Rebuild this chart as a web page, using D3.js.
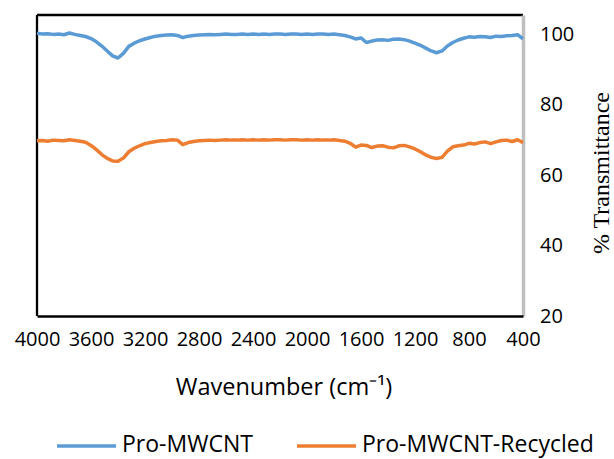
<!DOCTYPE html>
<html>
<head>
<meta charset="utf-8">
<script src="https://cdnjs.cloudflare.com/ajax/libs/d3/7.8.5/d3.min.js"></script>
<style>
  body { margin: 0; background: #fff; }
  .tick-label { font-family: "Open Sans", sans-serif; font-size: 20px; fill: #000; }
  .axisText { font-family: "Open Sans", sans-serif; font-size: 23.5px; fill: #000; }
  .legendText { font-family: "Open Sans", sans-serif; font-size: 23px; fill: #000; }
</style>
</head>
<body>
<div class="chart"></div>
<script>
// FTIR spectra, Pro-MWCNT vs recycled

var wavenumbers = [4000, 3960, 3920, 3880, 3840, 3800, 3760, 3720, 3680, 3640,
  3600, 3560, 3520, 3480, 3440, 3400, 3360, 3320, 3280, 3240,
  3200, 3160, 3120, 3080, 3040, 3000, 2960, 2920, 2880, 2840,
  2800, 2760, 2720, 2680, 2640, 2600, 2560, 2520, 2480, 2440,
  2400, 2360, 2320, 2280, 2240, 2200, 2160, 2120, 2080, 2040,
  2000, 1960, 1920, 1880, 1840, 1800, 1760, 1720, 1680, 1640,
  1600, 1560, 1520, 1480, 1440, 1400, 1360, 1320, 1280, 1240,
  1200, 1160, 1120, 1080, 1040, 1000, 960, 920, 880, 840,
  800, 760, 720, 680, 640, 600, 560, 520, 480, 440, 400];

var proMWCNT = [100.2, 100.0, 100.1, 99.9, 100.0, 99.8, 100.3, 99.9, 99.6, 99.3,
  98.7, 97.8, 96.6, 95.2, 93.8, 93.2, 94.5, 96.5, 97.4, 98.1,
  98.6, 99.0, 99.4, 99.6, 99.7, 99.8, 99.6, 99.0, 99.4, 99.6,
  99.7, 99.8, 99.9, 99.8, 99.9, 100.0, 99.9, 99.9, 100.0, 99.9,
  100.0, 99.9, 100.0, 99.9, 100.0, 100.0, 99.9, 100.0, 100.0, 99.9,
  100.0, 99.9, 100.0, 100.0, 99.9, 100.0, 99.8, 99.6, 99.2, 98.6,
  98.9, 97.6, 98.0, 98.3, 98.4, 98.2, 98.5, 98.6, 98.4, 98.0,
  97.4, 96.8, 96.0, 95.2, 94.7, 95.2, 96.6, 97.6, 98.3, 98.8,
  99.2, 99.1, 99.3, 99.2, 99.0, 99.4, 99.3, 99.5, 99.6, 99.8, 98.6];

var proMWCNTRecycled = [69.7, 69.8, 69.6, 69.9, 69.8, 69.7, 70.0, 69.8, 69.6, 69.3,
  68.4, 67.2, 65.8, 64.7, 64.0, 63.9, 64.8, 66.6, 67.6, 68.3,
  68.9, 69.2, 69.5, 69.7, 69.8, 70.0, 69.9, 68.6, 69.2, 69.5,
  69.7, 69.8, 69.9, 69.8, 69.9, 70.0, 69.9, 69.9, 70.0, 69.9,
  70.0, 69.9, 70.0, 69.9, 70.0, 70.0, 69.9, 70.0, 70.0, 69.9,
  70.0, 69.9, 70.0, 69.9, 69.9, 70.0, 69.8, 69.6, 69.0, 67.9,
  68.5, 68.4, 67.8, 68.2, 68.3, 67.9, 67.7, 68.3, 68.4, 68.0,
  67.4, 66.6, 65.7, 65.0, 64.7, 65.0, 66.8, 68.0, 68.3, 68.5,
  69.0, 68.8, 69.2, 69.4, 68.9, 69.4, 69.8, 69.9, 69.5, 70.0, 69.2];

var xTicks = [4000, 3600, 3200, 2800, 2400, 2000, 1600, 1200, 800, 400];
var yTicks = [20, 40, 60, 80, 100];

var seriesNames = ["Pro-MWCNT", "Pro-MWCNT-Recycled"];
var seriesColors = ["#5b9bd5", "#ed7d31"];

var svgWidth = 614;
var svgHeight = 459;

var margin = { top: 15, right: 91, bottom: 143, left: 37 };

var width = svgWidth - margin.left - margin.right;
var height = svgHeight - margin.top - margin.bottom;

var svg = d3
  .select(".chart")
  .append("svg")
  .attr("width", svgWidth)
  .attr("height", svgHeight);

var chart = svg.append("g")
  .attr("transform", "translate(" + margin.left + "," + margin.top + ")");

// scales (x reversed, like the spectrometer output)
var xScale = d3.scaleLinear().domain([4000, 400]).range([0, width]);
var yScale = d3.scaleLinear().domain([20, 105.4]).range([height, 0]);

// frame: black on three sides, grey value axis on the right
chart.append("line")
  .attr("x1", 0).attr("x2", width).attr("y1", 0).attr("y2", 0)
  .attr("stroke", "#000").attr("stroke-width", 2.3);
chart.append("line")
  .attr("x1", 0).attr("x2", 0).attr("y1", 0).attr("y2", height)
  .attr("stroke", "#000").attr("stroke-width", 2.3);

var rightAxis = d3.axisRight(yScale)
  .tickValues(yTicks)
  .tickFormat(d3.format("d"))
  .tickSize(0)
  .tickPadding(17);

var yAxisG = chart.append("g")
  .attr("transform", "translate(" + width + ",0)")
  .call(rightAxis);
yAxisG.select(".domain")
  .attr("stroke", "#bfbfbf").attr("stroke-width", 3.5);
yAxisG.selectAll("text")
  .attr("class", "tick-label")
  .attr("font-family", null).attr("font-size", null);

var bottomAxis = d3.axisBottom(xScale)
  .tickValues(xTicks)
  .tickFormat(d3.format("d"))
  .tickSize(0)
  .tickPadding(16);

var xAxisG = chart.append("g")
  .attr("transform", "translate(0," + height + ")")
  .call(bottomAxis);
xAxisG.select(".domain")
  .attr("stroke", "#000").attr("stroke-width", 2.3);
xAxisG.selectAll("text")
  .attr("class", "tick-label")
  .attr("font-family", null).attr("font-size", null);

// spectra
var line = d3.line()
  .x(function(d) { return xScale(d[0]); })
  .y(function(d) { return yScale(d[1]); });

[proMWCNT, proMWCNTRecycled].forEach(function(vals, i) {
  var pts = wavenumbers.map(function(w, j) { return [w, vals[j]]; });
  chart.append("path")
    .datum(pts)
    .attr("fill", "none")
    .attr("stroke", seriesColors[i])
    .attr("stroke-width", 3.5)
    .attr("stroke-linejoin", "round")
    .attr("d", line);
});

// axis titles
svg.append("text")
  .attr("class", "axisText")
  .attr("x", 284)
  .attr("y", 387)
  .attr("dy", "0.35em")
  .attr("text-anchor", "middle")
  .text("Wavenumber (cm\u207B\u00B9)");

svg.append("text")
  .attr("transform", "translate(609,173) rotate(-90)")
  .attr("text-anchor", "middle")
  .attr("font-family", "'Liberation Serif', 'Times New Roman', serif")
  .attr("font-size", 24)
  .text("% Transmittance");

// legend
var legendX = [57, 297];
seriesNames.forEach(function(name, i) {
  svg.append("line")
    .attr("x1", legendX[i]).attr("x2", legendX[i] + 59)
    .attr("y1", 446).attr("y2", 446)
    .attr("stroke", seriesColors[i])
    .attr("stroke-width", 3.5);
  svg.append("text")
    .attr("class", "legendText")
    .attr("x", legendX[i] + 65)
    .attr("y", 452)
    .text(name);
});
</script>
</body>
</html>
